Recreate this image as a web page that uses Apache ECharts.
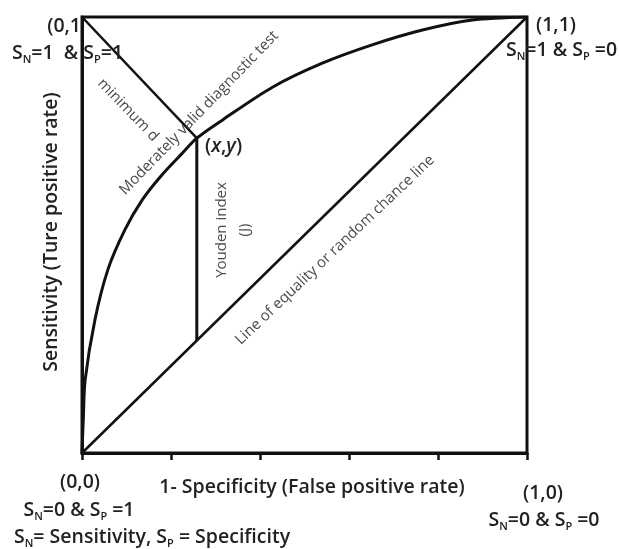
<!DOCTYPE html>
<html>
<head>
<meta charset="utf-8">
<script src="https://cdn.jsdelivr.net/npm/echarts@6/dist/echarts.min.js"></script>
<style>html,body{margin:0;padding:0;background:#fff}#c{width:619px;height:549px}</style>
</head>
<body>
<div id="c"></div>
<script>
// ROC curve
const rocX = [0, 0.003, 0.007, 0.029, 0.058, 0.096, 0.135, 0.179, 0.224, 0.258, 0.316, 0.428, 0.540, 0.652, 0.765, 0.877, 1];
const rocY = [0, 0.08, 0.167, 0.305, 0.42, 0.511, 0.58, 0.637, 0.686, 0.722, 0.764, 0.839, 0.894, 0.936, 0.970, 0.993, 1];
// optimal cut-off point (x, y)
const optX = 0.258;
const optY = 0.722;
// line of equality
const diagX = [0, 1];
const diagY = [0, 1];
const xTicks = [0, 0.2, 0.4, 0.6, 0.8, 1];

const FONT = 'Open Sans';
const OUT = 19.5;
const IN = 15;
const chart = echarts.init(document.getElementById('c'), null, {renderer: 'canvas'});

const zip = (a, b) => a.map((v, i) => [v, b[i]]);

const subRich = {
  m: {fontFamily: FONT, fontWeight: 600, fontSize: OUT, lineHeight: 24, color: '#222'},
  s: {fontFamily: FONT, fontWeight: 600, fontSize: 11, lineHeight: 24, color: '#222', verticalAlign: 'bottom'}
};
function sub(parts) {
  return parts.map(p => '{' + (p[1] ? 's' : 'm') + '|' + p[0] + '}').join('');
}
function outerText(x, y, text, align, rich) {
  return {
    type: 'text', x: x, y: y, z: 100,
    style: {
      text: text, align: align, verticalAlign: 'middle',
      fontFamily: FONT, fontWeight: 600, fontSize: OUT, fill: '#222',
      rich: rich || subRich
    }
  };
}
function inText(x, y, text, deg, extra) {
  return {
    type: 'text', x: x, y: y, rotation: deg * Math.PI / 180, z: 100,
    style: Object.assign({
      text: text, align: 'center', verticalAlign: 'middle',
      fontFamily: FONT, fontSize: IN, fill: '#4a4a4a'
    }, extra || {})
  };
}

const option = {
  animation: false,
  backgroundColor: '#fff',
  grid: {left: 82, right: 92, top: 17, bottom: 96, show: true, borderColor: '#111', borderWidth: 3, containLabel: false},
  xAxis: {
    type: 'value', min: 0, max: 1, interval: 0.2,
    name: '1- Specificity (False positive rate)',
    nameLocation: 'middle', nameGap: 24,
    nameTextStyle: {fontFamily: FONT, fontWeight: 600, fontSize: OUT, color: '#222', padding: [0, 0, 0, 15]},
    axisLine: {show: true, lineStyle: {color: '#111', width: 3}},
    axisTick: {show: true, length: 7, lineStyle: {color: '#111', width: 2.5}},
    axisLabel: {show: false},
    splitLine: {show: false}
  },
  yAxis: {
    type: 'value', min: 0, max: 1, interval: 0.2,
    name: 'Sensitivity (Ture positive rate)',
    nameLocation: 'middle', nameGap: 21, nameRotate: 90,
    nameTextStyle: {fontFamily: FONT, fontWeight: 600, fontSize: OUT, color: '#222', padding: [0, 0, 0, 6]},
    axisLine: {show: true, lineStyle: {color: '#111', width: 3}},
    axisTick: {show: false},
    axisLabel: {show: false},
    splitLine: {show: false}
  },
  series: [
    {
      name: 'ROC curve', type: 'line', smooth: 0.3, showSymbol: false,
      data: zip(rocX, rocY), lineStyle: {color: '#111', width: 3}
    },
    {
      name: 'Line of equality', type: 'line', showSymbol: false,
      data: zip(diagX, diagY), lineStyle: {color: '#111', width: 2.5}
    },
    {
      name: 'minimum d', type: 'line', showSymbol: false,
      data: [[0, 1], [optX, optY]], lineStyle: {color: '#111', width: 2.5}
    },
    {
      name: 'Youden index', type: 'line', showSymbol: false,
      data: [[optX, optY], [optX, optX]], lineStyle: {color: '#111', width: 3}
    }
  ],
  graphic: [
    outerText(81, 26, '(0,1', 'right'),
    outerText(12, 53, sub([['S'], ['N', 1], ['=1  & '], ['S'], ['P', 1], ['=1']]), 'left'),
    outerText(536, 25, '(1,1)', 'left'),
    outerText(506, 50, sub([['S'], ['N', 1], ['=1 & '], ['S'], ['P', 1], [' =0']]), 'left'),
    outerText(80, 482, '(0,0)', 'center'),
    outerText(79, 510, sub([['S'], ['N', 1], ['=0 & '], ['S'], ['P', 1], [' =1']]), 'center'),
    outerText(14, 537, sub([['S'], ['N', 1], ['= Sensitivity, '], ['S'], ['P', 1], [' = Specificity']]), 'left'),
    outerText(543, 493, '(1,0)', 'center'),
    outerText(544, 520, sub([['S'], ['N', 1], ['=0 & '], ['S'], ['P', 1], [' =0']]), 'center'),
    outerText(205, 146, '{m|(}{i|x}{m|,}{i|y}{m|)}', 'left', {
      m: {fontFamily: FONT, fontWeight: 600, fontSize: OUT, color: '#222'},
      i: {fontFamily: FONT, fontWeight: 600, fontStyle: 'italic', fontSize: OUT, color: '#222'}
    }),
    inText(128, 110, 'minimum d', -46),
    inText(199, 113, 'Moderately valid diagnostic test', 46),
    inText(233.5, 230, 'Youden index\n(J)', 90, {lineHeight: 23}),
    inText(335, 250, 'Line of equality or random chance line', 43.5)
  ]
};
chart.setOption(option);
</script>
</body>
</html>
